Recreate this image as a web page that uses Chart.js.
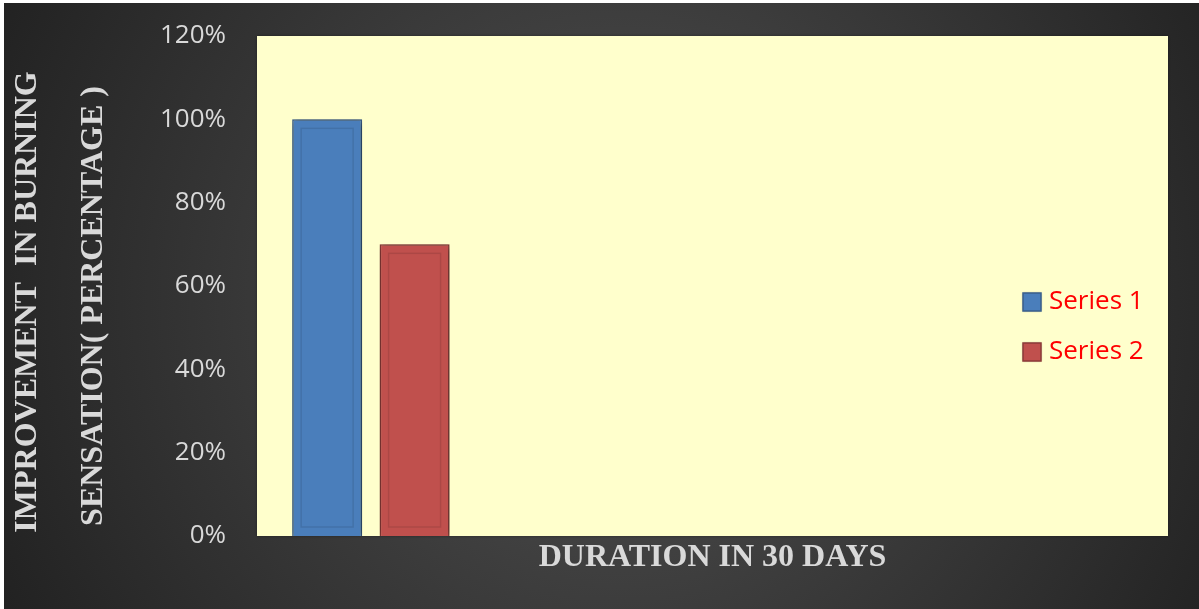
<!DOCTYPE html>
<html>
<head>
<meta charset="utf-8">
<script src="https://cdn.jsdelivr.net/npm/chart.js@4/dist/chart.umd.min.js"></script>
<style>
  html, body { margin: 0; padding: 0; background: #ffffff; }
  canvas { display: block; }
</style>
</head>
<body>
<canvas id="chart" width="1199" height="609"></canvas>
<script>
// Category slots along the duration axis (only the first one carries readings)
const durations = ['30 days', '', '', ''];
// Improvement in burning sensation, percent
const series1 = [100, null, null, null];
const series2 = [70, null, null, null];
const seriesNames = ['Series 1', 'Series 2'];
// Y axis range and step, percent
const yMin = 0;
const yMax = 120;
const yStep = 20;

const titleColor = '#d9d9d9';
const serif = "'Liberation Serif', 'Times New Roman', serif";
const sans = "'Open Sans', 'Noto Sans', sans-serif";

// Dark radial backdrop with a pale yellow plotting panel
const backdrop = {
  id: 'backdrop',
  beforeDraw(chart) {
    const { ctx, width, height, chartArea: a } = chart;
    ctx.save();
    ctx.fillStyle = '#ffffff';
    ctx.fillRect(0, 0, width, height);
    const g = ctx.createRadialGradient(620, 300, 0, 620, 300, 700);
    g.addColorStop(0, '#525252');
    g.addColorStop(1, '#212121');
    ctx.fillStyle = g;
    ctx.fillRect(4, 3, width - 4, height - 3);
    ctx.shadowColor = 'rgba(0,0,0,0.35)';
    ctx.shadowBlur = 3;
    ctx.fillStyle = '#ffffcc';
    ctx.fillRect(a.left, a.top, a.right - a.left, a.bottom - a.top);
    ctx.restore();
  }
};

// Soft drop shadow under the bars plus an inset bevel line
const barStyle = {
  id: 'barStyle',
  beforeDatasetsDraw(chart) {
    const ctx = chart.ctx;
    ctx.save();
    ctx.shadowColor = 'rgba(0,0,0,0.6)';
    ctx.shadowBlur = 7;
    ctx.shadowOffsetX = 1;
    ctx.shadowOffsetY = 1;
  },
  afterDatasetsDraw(chart) {
    const ctx = chart.ctx;
    ctx.restore();
    ctx.save();
    ctx.strokeStyle = 'rgba(0,0,0,0.10)';
    ctx.lineWidth = 1.5;
    chart.data.datasets.forEach((ds, i) => {
      chart.getDatasetMeta(i).data.forEach(bar => {
        if (bar.y == null || isNaN(bar.y) || bar.base - bar.y < 20) return;
        const inset = 9;
        const left = bar.x - bar.width / 2 + inset;
        ctx.strokeRect(left, bar.y + inset, bar.width - inset * 2, bar.base - bar.y - inset * 2);
      });
    });
    ctx.restore();
  }
};

// Legend drawn inside the plotting panel, on the right
const panelLegend = {
  id: 'panelLegend',
  afterDraw(chart) {
    const { ctx, chartArea: a } = chart;
    ctx.save();
    ctx.font = '26px ' + sans;
    ctx.textBaseline = 'middle';
    ctx.textAlign = 'left';
    chart.data.datasets.forEach((ds, i) => {
      const bx = a.right - 145;
      const cy = a.top + 266 + i * 50;
      ctx.shadowColor = 'rgba(0,0,0,0.4)';
      ctx.shadowBlur = 2;
      ctx.fillStyle = ds.backgroundColor;
      ctx.fillRect(bx, cy - 9, 18, 18);
      ctx.shadowBlur = 0;
      ctx.strokeStyle = ds.borderColor;
      ctx.lineWidth = 1.5;
      ctx.strokeRect(bx, cy - 9, 18, 18);
      ctx.fillStyle = '#ff0000';
      ctx.fillText(ds.label, bx + 26, cy);
    });
    ctx.restore();
  }
};

new Chart(document.getElementById('chart'), {
  type: 'bar',
  data: {
    labels: durations,
    datasets: [
      {
        label: seriesNames[0],
        data: series1,
        backgroundColor: '#4a7ebb',
        borderColor: '#3a5f8c',
        borderWidth: 1.5
      },
      {
        label: seriesNames[1],
        data: series2,
        backgroundColor: '#c0504d',
        borderColor: '#8c3a38',
        borderWidth: 1.5
      }
    ]
  },
  options: {
    responsive: false,
    animation: false,
    devicePixelRatio: 1,
    layout: { padding: { top: 36, right: 31, bottom: 0, left: 0 } },
    datasets: { bar: { categoryPercentage: 0.768, barPercentage: 0.8 } },
    plugins: {
      legend: { display: false },
      tooltip: { enabled: false }
    },
    scales: {
      x: {
        grid: { display: false, drawTicks: false },
        border: { display: false },
        ticks: { display: false },
        title: {
          display: true,
          text: 'DURATION IN 30 DAYS',
          color: titleColor,
          font: { family: serif, size: 32, weight: 'bold', lineHeight: 1.2 },
          padding: { top: 0, bottom: 32 }
        },
        afterFit(scale) {
          scale.height = 73;
          scale.paddingLeft = 0;
          scale.paddingRight = 0;
        }
      },
      y: {
        min: yMin,
        max: yMax,
        grid: { display: false, drawTicks: false },
        border: { display: false },
        ticks: {
          stepSize: yStep,
          padding: 31,
          color: titleColor,
          font: { family: sans, size: 26 },
          callback: v => v + '%'
        },
        title: {
          display: true,
          text: ['IMPROVEMENT  IN BURNING    ', 'SENSATION( PERCENTAGE )     '],
          color: titleColor,
          font: { family: serif, size: 32, weight: 'bold', lineHeight: 66 / 32 },
          padding: { top: -5, bottom: 0 }
        },
        afterFit(scale) {
          scale.width = 257;
          scale.paddingTop = 0;
          scale.paddingBottom = 0;
        }
      }
    }
  },
  plugins: [backdrop, barStyle, panelLegend]
});
</script>
</body>
</html>
